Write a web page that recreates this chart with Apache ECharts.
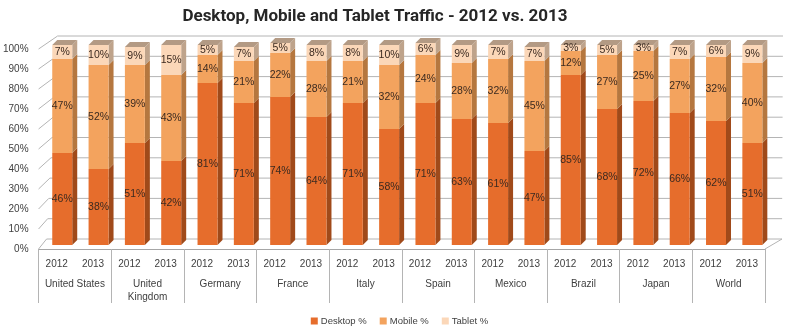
<!DOCTYPE html>
<html>
<head>
<meta charset="utf-8">
<script src="https://cdn.jsdelivr.net/npm/echarts@6/dist/echarts.min.js"></script>
<style>
  html, body { margin: 0; padding: 0; background: #ffffff; }
  #chart { width: 799px; height: 330px; }
</style>
</head>
<body>
<div id="chart"></div>
<script>
// Traffic share by device type, per country, 2012 vs. 2013
const countries = ['United States', 'United\nKingdom', 'Germany', 'France', 'Italy',
                   'Spain', 'Mexico', 'Brazil', 'Japan', 'World'];
const years = ['2012', '2013'];
const desktop = [46, 38, 51, 42, 81, 71, 74, 64, 71, 58, 71, 63, 61, 47, 85, 68, 72, 66, 62, 51];
const mobile  = [47, 52, 39, 43, 14, 21, 22, 28, 21, 32, 24, 28, 32, 45, 12, 27, 25, 27, 32, 40];
const tablet  = [ 7, 10,  9, 15,  5,  7,  5,  8,  8, 10,  6,  9,  7,  7,  3,  5,  3,  7,  6,  9];
const yTicks = [0, 10, 20, 30, 40, 50, 60, 70, 80, 90, 100];

const seriesNames = ['Desktop %', 'Mobile %', 'Tablet %'];

// one year label per bar slot
const yearLabels = [];
countries.forEach(() => years.forEach(y => yearLabels.push(y)));

// face colours: front, side, top
const faces = [
  { front: '#E66D2C', side: '#A04A1A', top: '#C45A22' },
  { front: '#F3A35E', side: '#B5773F', top: '#D08B4E' },
  { front: '#FBD7B8', side: '#BEA38B', top: '#B39A84' }
];

// pseudo-3D depth offsets (pixels)
const BAR_OX = 5.5, BAR_OY = -4;   // bar front plane relative to the floor front edge
const BAR_D = 5;                   // bar depth
const BAR_W = 0.55;                // bar width as share of a slot
function wallLeftShift(v)  { return [8 + 11 * v / 100, -10 - 3 * v / 100]; }
function wallRightShift(v) { return [17 + 1 * v / 100, -10 - 3 * v / 100]; }

// stacked segments: [slot, start, end, value]
const stacks = [desktop, mobile, tablet];
const segData = stacks.map((arr, k) => arr.map((v, i) => {
  let start = 0;
  for (let j = 0; j < k; j++) start += stacks[j][i];
  return [i, start, start + v, v];
}));

function renderWall(params, api) {
  const v = api.value(1);
  const band = api.size([1, 0])[0];
  const p = api.coord([0, v]);
  const left = p[0] - band / 2;
  const right = api.coord([yearLabels.length - 1, v])[0] + band / 2;
  const y = p[1];
  const sl = wallLeftShift(v), sr = wallRightShift(v);
  const children = [{
    type: 'polyline',
    shape: { points: [[left, y], [left + sl[0], y + sl[1]], [right + sr[0], y + sr[1]]] },
    style: { stroke: '#B4B4B4', lineWidth: 1, fill: null }
  }];
  if (v === 0) {
    children.push({
      type: 'line',
      shape: { x1: right, y1: y, x2: right + sr[0], y2: y + sr[1] },
      style: { stroke: '#B4B4B4', lineWidth: 1 }
    });
  }
  return { type: 'group', children };
}

function makeBarRenderer(k) {
  return function (params, api) {
    const idx = api.value(0);
    const b = api.coord([idx, api.value(1)]);
    const t = api.coord([idx, api.value(2)]);
    const band = api.size([1, 0])[0];
    const w = band * BAR_W;
    const cx = b[0] + BAR_OX;
    const x0 = cx - w / 2, x1 = cx + w / 2;
    const yb = b[1] + BAR_OY, yt = t[1] + BAR_OY;
    const f = faces[k];
    const children = [
      {
        type: 'polygon',
        shape: { points: [[x1, yt], [x1 + BAR_D, yt - BAR_D], [x1 + BAR_D, yb - BAR_D], [x1, yb]] },
        style: { fill: f.side }
      },
      {
        type: 'rect',
        shape: { x: x0, y: yt, width: w, height: yb - yt },
        style: { fill: f.front }
      }
    ];
    if (k === stacks.length - 1) {
      children.push({
        type: 'polygon',
        shape: { points: [[x0, yt], [x0 + BAR_D, yt - BAR_D], [x1 + BAR_D, yt - BAR_D], [x1, yt]] },
        style: { fill: f.top }
      });
    }
    children.push({
      type: 'text',
      style: {
        x: cx, y: (yt + yb) / 2,
        text: api.value(3) + '%',
        align: 'center', verticalAlign: 'middle',
        fill: '#3B2A20',
        font: '10.5px "Liberation Sans", Arial, sans-serif'
      }
    });
    return { type: 'group', children };
  };
}

const chart = echarts.init(document.getElementById('chart'), null, { renderer: 'canvas' });

const labelFont = { fontFamily: 'Liberation Sans', fontSize: 10, color: '#404040' };

chart.setOption({
  animation: false,
  color: faces.map(f => f.front),
  title: {
    text: 'Desktop, Mobile and Tablet Traffic - 2012 vs. 2013',
    left: 370, top: 3, textAlign: 'center',
    textStyle: { fontFamily: 'Roboto', fontWeight: 'bold', fontSize: 17, color: '#262626' }
  },
  legend: {
    data: seriesNames,
    left: 'center', top: 311,
    icon: 'rect', itemWidth: 7, itemHeight: 7, itemGap: 13,
    textStyle: { fontFamily: 'Liberation Sans', fontSize: 9.5, color: '#404040', padding: [0, 0, 0, -2] }
  },
  grid: { left: 35, right: 34, top: 49, bottom: 81 },
  xAxis: [
    {
      type: 'category', data: yearLabels, position: 'bottom',
      axisLine: { show: true, lineStyle: { color: '#A6A6A6' } },
      axisTick: { show: false },
      axisLabel: Object.assign({ margin: 10, interval: 0 }, labelFont),
      splitLine: { show: false }
    },
    {
      type: 'category', data: countries, position: 'bottom', offset: 0,
      axisLine: { show: false },
      axisTick: { show: true, length: 54, lineStyle: { color: '#B4B4B4' } },
      axisLabel: Object.assign({ margin: 29, interval: 0, lineHeight: 13 }, labelFont),
      splitLine: { show: false }
    }
  ],
  yAxis: {
    type: 'value', min: 0, max: 100, interval: 10,
    axisLine: { show: false }, axisTick: { show: false }, splitLine: { show: false },
    axisLabel: Object.assign({ margin: 10, formatter: '{value}%' }, labelFont)
  },
  series: [
    {
      type: 'custom', name: 'wall', xAxisIndex: 0, yAxisIndex: 0, z: 1,
      silent: true,
      renderItem: renderWall,
      data: yTicks.map(v => [0, v])
    }
  ].concat(seriesNames.map((name, k) => ({
    type: 'custom', name, xAxisIndex: 0, yAxisIndex: 0, z: 2 + k,
    itemStyle: { color: faces[k].front },
    renderItem: makeBarRenderer(k),
    encode: { x: 0, y: [1, 2] },
    data: segData[k]
  })))
});
</script>
</body>
</html>
